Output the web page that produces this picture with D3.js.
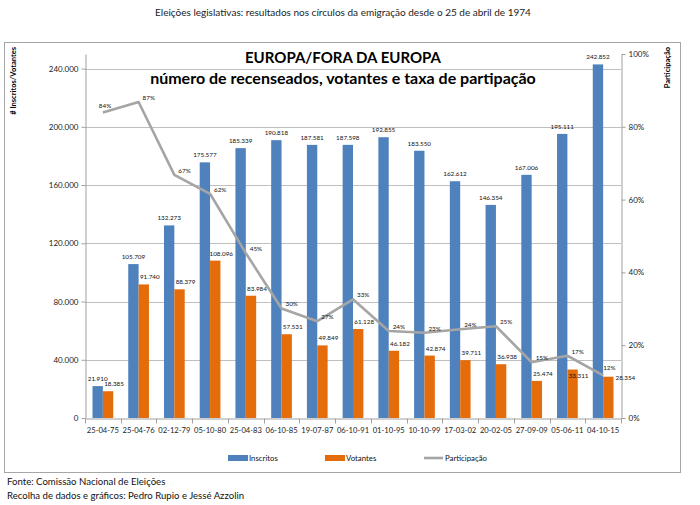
<!DOCTYPE html>
<html>
<head>
<meta charset="utf-8">
<script src="https://cdn.jsdelivr.net/npm/d3@7"></script>
<style>
  html, body { margin: 0; padding: 0; background: #fff; }
  svg { display: block; font-family: Lato, "Open Sans", sans-serif; }
</style>
</head>
<body>
<svg id="chart" width="700" height="505"></svg>
<script>
// ---- data ----
const categories = ["25-04-75","25-04-76","02-12-79","05-10-80","25-04-83","06-10-85","19-07-87","06-10-91","01-10-95","10-10-99","17-03-02","20-02-05","27-09-09","05-06-11","04-10-15"];
const inscritos = [21910,105709,132273,175577,185339,190818,187581,187598,192855,183550,162612,146354,167006,195111,242852];
const votantes  = [18385,91740,88379,108096,83984,57531,49849,61128,46182,42874,39711,36938,25474,33311,28354];
const participacao = [83.9,86.8,66.8,61.6,45.3,30.1,26.6,32.6,23.9,23.4,24.4,25.2,15.3,17.1,11.7];
const leftTicks = [0,40000,80000,120000,160000,200000,240000];
const rightTicks = [0,20,40,60,80,100];
const seriesNames = ["Inscritos","Votantes","Participação"];

const svg = d3.select("#chart");
const plot = {left: 85, right: 621, top: 54, bottom: 418};
const cBlue = "#4F81BD", cOrange = "#E46C0A", cLine = "#A5A5A5";
const fmt = d3.formatLocale({decimal: ",", thousands: ".", grouping: [3]}).format(",d");

// page title
svg.append("text").attr("x", 343).attr("y", 16).attr("text-anchor", "middle")
  .attr("font-size", 10).attr("fill", "#222")
  .text("Eleições legislativas: resultados nos círculos da emigração desde o 25 de abril de 1974");

// chart border
svg.append("rect").attr("x", 4.5).attr("y", 42.5).attr("width", 676).attr("height", 430)
  .attr("fill", "none").attr("stroke", "#A6A6A6").attr("stroke-width", 1);

// scales
const x = d3.scaleBand().domain(categories).range([plot.left, plot.right]).padding(0);
const y = d3.scaleLinear().domain([0, 250000]).range([plot.bottom, plot.top]);
const y2 = d3.scaleLinear().domain([0, 100]).range([plot.bottom, plot.top]);
const bw = x.bandwidth() * 0.29;

// gridlines
svg.append("g").selectAll("line").data(leftTicks.filter(d => d > 0)).join("line")
  .attr("x1", plot.left).attr("x2", plot.right)
  .attr("y1", d => Math.round(y(d)) + 0.5).attr("y2", d => Math.round(y(d)) + 0.5)
  .attr("stroke", "#BFBFBF").attr("stroke-width", 1);

// left axis
const gL = svg.append("g").attr("transform", `translate(${plot.left + 0.5},0)`)
  .call(d3.axisLeft(y).tickValues(leftTicks).tickFormat(d => d === 0 ? "0" : fmt(d)).tickSize(4).tickSizeOuter(0).tickPadding(3));
gL.select(".domain").attr("stroke", "#A0A0A0");
gL.selectAll(".tick line").attr("stroke", "#A0A0A0");
gL.selectAll(".tick text").attr("font-size", 8).attr("fill", "#222").attr("font-family", "Lato");

// right axis
const gR = svg.append("g").attr("transform", `translate(${plot.right + 0.5},0)`)
  .call(d3.axisRight(y2).tickValues(rightTicks).tickFormat(d => d + "%").tickSize(4).tickSizeOuter(0).tickPadding(3));
gR.select(".domain").attr("stroke", "#A0A0A0");
gR.selectAll(".tick line").attr("stroke", "#A0A0A0");
gR.selectAll(".tick text").attr("font-size", 8).attr("fill", "#222").attr("font-family", "Lato");

// bottom axis
const gB = svg.append("g").attr("transform", `translate(0,${plot.bottom + 0.5})`)
  .call(d3.axisBottom(x).tickSize(0).tickPadding(9));
gB.select(".domain").attr("stroke", "#A0A0A0");
gB.selectAll(".tick text").attr("font-size", 7.6).attr("fill", "#222").attr("font-family", "Lato");
gB.append("g").selectAll("line").data(d3.range(categories.length + 1)).join("line")
  .attr("x1", i => Math.round(plot.left + i * x.step()) + 0.5)
  .attr("x2", i => Math.round(plot.left + i * x.step()) + 0.5)
  .attr("y1", 0).attr("y2", 5).attr("stroke", "#A0A0A0");

// bars
const cx = d => x(d) + x.bandwidth() / 2;
svg.append("g").selectAll("rect").data(categories).join("rect")
  .attr("x", (d) => cx(d) - bw).attr("width", bw)
  .attr("y", (d, i) => y(inscritos[i])).attr("height", (d, i) => plot.bottom - y(inscritos[i]))
  .attr("fill", cBlue);
svg.append("g").selectAll("rect").data(categories).join("rect")
  .attr("x", (d) => cx(d)).attr("width", bw)
  .attr("y", (d, i) => y(votantes[i])).attr("height", (d, i) => plot.bottom - y(votantes[i]))
  .attr("fill", cOrange);

// bar labels
svg.append("g").selectAll("text").data(categories).join("text")
  .attr("x", d => cx(d) - bw / 2).attr("y", (d, i) => y(inscritos[i]) - 5)
  .attr("text-anchor", "middle").attr("font-size", 6.3).attr("fill", "#111")
  .text((d, i) => fmt(inscritos[i]));
const n = categories.length;
svg.append("g").selectAll("text").data(categories).join("text")
  .attr("x", (d, i) => i === n - 1 ? cx(d) + bw + 2 : cx(d) + bw / 2 + 6)
  .attr("y", (d, i) => i === n - 1 ? y(votantes[i]) + 3 : (i === n - 2 ? y(votantes[i]) + 9 : y(votantes[i]) - 5))
  .attr("text-anchor", (d, i) => i === n - 1 ? "start" : "middle")
  .attr("font-size", 6.3).attr("fill", "#111")
  .text((d, i) => fmt(votantes[i]));

// participation line
const line = d3.line().x((d, i) => cx(categories[i])).y(d => y2(d));
svg.append("path").datum(participacao).attr("d", line)
  .attr("fill", "none").attr("stroke", cLine).attr("stroke-width", 2.6).attr("stroke-linejoin", "round");
svg.append("g").selectAll("text").data(participacao).join("text")
  .attr("x", (d, i) => cx(categories[i]) + (i === 0 ? -4 : (i === n - 1 ? 0 : 4)))
  .attr("y", (d, i) => y2(d) - (i === 0 ? 5 : (i === n - 1 ? 5 : 2)))
  .attr("font-size", 6.3).attr("fill", "#111")
  .text(d => Math.round(d) + "%");

// chart titles
svg.append("text").attr("x", 343).attr("y", 63).attr("text-anchor", "middle")
  .attr("font-size", 15).attr("font-weight", "bold").attr("fill", "#000")
  .text("EUROPA/FORA DA EUROPA");
svg.append("text").attr("x", 343).attr("y", 84).attr("text-anchor", "middle")
  .attr("font-size", 16).attr("font-weight", "bold").attr("fill", "#000")
  .text("número de recenseados, votantes e taxa de partipação");

// axis titles
svg.append("text").attr("transform", "translate(16,47) rotate(-90)")
  .attr("text-anchor", "end").attr("font-size", 7.5).attr("font-weight", "bold").attr("fill", "#000")
  .text("# Inscritos/Votantes");
svg.append("text").attr("transform", "translate(670,47) rotate(-90)")
  .attr("text-anchor", "end").attr("font-size", 7.5).attr("font-weight", "bold").attr("fill", "#000")
  .text("Participação");

// legend
const legY = 458;
const leg = svg.append("g");
const legItems = [
  {name: seriesNames[0], color: cBlue, type: "rect", x: 228},
  {name: seriesNames[1], color: cOrange, type: "rect", x: 325},
  {name: seriesNames[2], color: cLine, type: "line", x: 424}
];
legItems.forEach(it => {
  if (it.type === "rect") {
    leg.append("rect").attr("x", it.x).attr("y", legY - 3).attr("width", 20).attr("height", 6).attr("fill", it.color);
  } else {
    leg.append("line").attr("x1", it.x).attr("x2", it.x + 19).attr("y1", legY).attr("y2", legY)
      .attr("stroke", it.color).attr("stroke-width", 2.6);
  }
  leg.append("text").attr("x", it.x + 21).attr("y", legY + 3).attr("font-size", 7.8).attr("fill", "#111").text(it.name);
});

// footer
svg.append("text").attr("x", 7).attr("y", 485).attr("font-size", 9.6).attr("fill", "#111")
  .text("Fonte: Comissão Nacional de Eleições");
svg.append("text").attr("x", 7).attr("y", 499).attr("font-size", 9.6).attr("fill", "#111")
  .text("Recolha de dados e gráficos: Pedro Rupio e Jessé Azzolin");
</script>
</body>
</html>
